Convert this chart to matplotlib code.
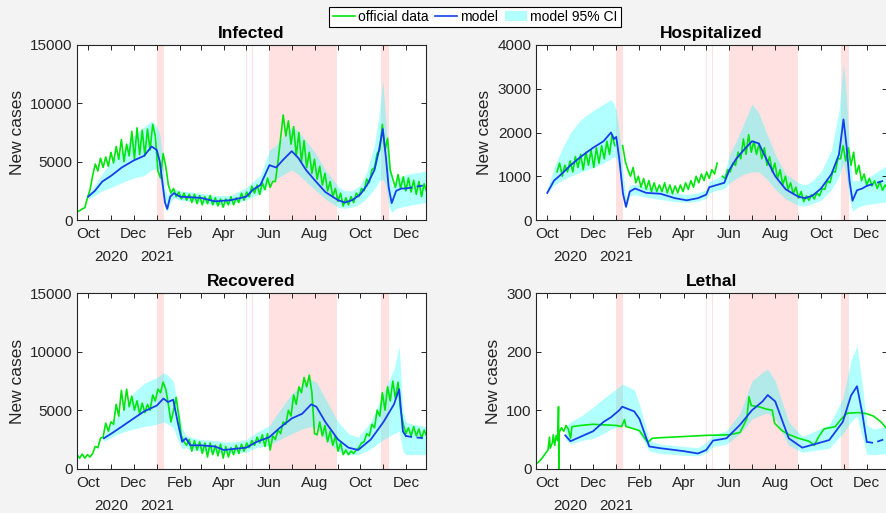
import numpy as np
import pandas as pd
import matplotlib
matplotlib.use('Agg')
import matplotlib.pyplot as plt
import matplotlib.dates as mdates
import matplotlib.transforms as mtransforms
from matplotlib.lines import Line2D
from matplotlib.patches import Patch

plt.rcParams['font.family'] = ['Liberation Sans', 'DejaVu Sans']

nan = np.nan
panel_titles = ['Infected', 'Hospitalized', 'Recovered', 'Lethal']
y_label = 'New cases'
y_ticks = [[0, 5000, 10000, 15000], [0, 1000, 2000, 3000, 4000],
           [0, 5000, 10000, 15000], [0, 100, 200, 300]]
legend_labels = ['official data', 'model', 'model 95% CI']
year_labels = [('2020-11-01', '2020'), ('2021-01-01', '2021')]
x_range = ('2020-09-16', '2021-12-28')
forecast_start = '2021-12-01'
shade_periods = [('2021-01-01', '2021-01-10'), ('2021-05-01', '2021-05-02'),
                 ('2021-05-09', '2021-05-10'), ('2021-06-01', '2021-08-31'),
                 ('2021-10-28', '2021-11-08')]

# ---------- official data (sampled every 3.5 days) ----------
official_step_hours = 84
inf_official_start = '2020-09-16'
inf_official = [700, 800, 950, 1050, 1900, 2600, 3800, 4800, 4200, 5300,
                4500, 5400, 4600, 5800, 4900, 6300, 5200, 6900, 5000, 6500,
                5500, 7600, 5200, 7900, 5600, 7700, 5500, 7800, 6000, 8200,
                7200, 4200, 3600, 5700, 4600, 3000, 2300, 2700, 2000, 2400,
                1800, 2300, 1700, 2200, 1500, 2200, 1400, 2100, 1300, 2000,
                1400, 2100, 1300, 1900, 1200, 1800, 1100, 1800, 1300, 2000,
                1300, 1900, 1500, 2300, 1700, 2400, 2000, 2900, 2300, 3000,
                2200, 3200, 2600, 3600, 2800, 3300, 3300, 5000, 7000, 9000,
                7200, 8500, 6500, 8000, 5500, 7500, 5000, 6800, 4500, 5800,
                4000, 5200, 3500, 4600, 3000, 4000, 2500, 3300, 2000, 2700,
                1600, 2300, 1200, 1900, 1300, 2000, 1500, 2300, 2000, 2700,
                2500, 3500, 3200, 4300, 4500, 5700, 6000, 8200, 6000, 7000,
                4300, 3500, 2800, 3900, 2700, 3700, 2500, 3600, 2400, 3400,
                2200, 3300, 2000, 3100, 2400]

hosp_official_start = '2020-10-14'
hosp_official = [1100, 1300, 1000, 1250, 1100, 1350, 1100, 1450, 1200, 1500,
                 1150, 1550, 1250, 1600, 1200, 1650, 1300, 1700, 1400, 1800,
                 1500, 1950, 1700, nan, nan, 1700, 1350, 1150, 1000, 1200,
                 850, 1000, 750, 950, 700, 900, 650, 850, 650, 800,
                 650, 850, 620, 800, 600, 780, 620, 800, 650, 850,
                 700, 900, 750, 1000, 850, 1050, 900, 1100, 950, 1150,
                 1050, 1300, nan, 1000, 950, 1150, 1100, 1300, 1250, 1550,
                 1400, 1850, 1500, 1950, 1550, 1800, 1500, 1750, 1400, 1650,
                 1250, 1450, 1100, 1300, 950, 1150, 800, 1000, 700, 850,
                 600, 750, 500, 650, 420, 550, 450, 580, 480, 620,
                 550, 720, 700, 900, 850, 1100, 1100, 1400, 1400, 1700,
                 1350, 1650, 1250, 1550, 1050, 1250, 900, 1050, 800, 950,
                 780, 900, 720, 880, 680, 800, 700]

rec_official_start = '2020-09-16'
rec_official = [1200, 900, 1250, 900, 1200, 1000, 1300, 1900, 1800, 2600,
                2700, 3900, 3200, 4000, 3800, 5500, 4500, 6700, 5000, 6800,
                5300, 6200, 5000, 5800, 4700, 5600, 4800, 5500, 5000, 6300,
                5800, 6800, 6500, 7400, 6800, 5500, 4000, 5000, 6100, 4500,
                2800, 2300, 2000, 2500, 1500, 2400, 1600, 2300, 1300, 2200,
                1000, 2200, 1200, 2000, 1100, 2100, 900, 1900, 1000, 1800,
                1200, 2000, 1300, 2100, 1500, 2200, 1800, 2400, 2000, 2700,
                2200, 2900, 1900, 3000, 1600, 2800, 2500, 3300, 3000, 4000,
                3800, 5000, 4500, 6300, 5500, 7000, 6500, 7800, 7000, 8000,
                6500, 3000, 2900, 4000, 2800, 3700, 2300, 3200, 2000, 2800,
                1500, 2200, 1200, 1600, 1200, 1500, 1300, 1600, 1800, 2200,
                2300, 3000, 2800, 3800, 3500, 5000, 4500, 6500, 5000, 7000,
                5800, 7500, 6000, 7400, 5000, 3800, 3000, 3500, 2800, 3600,
                2800, 3400, 2600, 3300, 2800]

leth_official_dates = ['2020-09-16', '2020-09-20', '2020-09-24', '2020-09-28',
                       '2020-10-02', '2020-10-04', '2020-10-05', '2020-10-08',
                       '2020-10-09', '2020-10-11', '2020-10-13', '2020-10-15',
                       '2020-10-16', '2020-10-16T12:00', '2020-10-17',
                       '2020-10-20', '2020-10-23', '2020-10-26', '2020-10-29',
                       '2020-11-01', '2020-11-03', '2020-11-15', '2020-12-01',
                       '2020-12-15', '2021-01-01', '2021-01-08', '2021-01-12',
                       '2021-01-14', '2021-01-20', '2021-02-01', '2021-02-08',
                       '2021-02-12', '2021-02-18', '2021-03-01', '2021-04-01',
                       '2021-05-01', '2021-06-01', '2021-06-15', '2021-06-24',
                       '2021-06-27', '2021-06-30', '2021-07-10', '2021-07-20',
                       '2021-07-28', '2021-07-31', '2021-08-10', '2021-08-20',
                       '2021-09-01', '2021-09-15', '2021-09-22', '2021-09-28',
                       '2021-10-05', '2021-10-20', '2021-10-28', '2021-11-05',
                       '2021-11-20', '2021-12-01', '2021-12-10', '2021-12-20',
                       '2021-12-28']
leth_official = [8, 12, 18, 25, 32, 54, 35, 45, 58, 40, 57, 48, 106, 0, 62,
                 70, 64, 74, 68, 52, 72, 74, 76, 75, 74, 72, 84, 72, 70, 65,
                 52, 45, 52, 53, 55, 57, 58, 62, 85, 123, 108, 106, 102, 100,
                 78, 65, 58, 52, 47, 40, 55, 68, 72, 85, 95, 96, 94, 90, 80, 68]

# ---------- model and 95% CI ----------
inf_model_dates = ['2020-10-01', '2020-10-10', '2020-10-20', '2020-11-01',
                   '2020-11-15', '2020-12-01', '2020-12-15', '2020-12-25',
                   '2021-01-01', '2021-01-05', '2021-01-09', '2021-01-12',
                   '2021-01-15', '2021-01-19', '2021-01-24', '2021-02-01',
                   '2021-03-01', '2021-03-20', '2021-04-10', '2021-05-01',
                   '2021-05-10', '2021-05-20', '2021-06-01', '2021-06-10',
                   '2021-06-20', '2021-07-01', '2021-07-10', '2021-07-20',
                   '2021-08-01', '2021-08-15', '2021-09-01', '2021-09-10',
                   '2021-09-20', '2021-10-01', '2021-10-10', '2021-10-20',
                   '2021-10-26', '2021-10-31', '2021-11-04', '2021-11-08',
                   '2021-11-12', '2021-11-18', '2021-11-25', '2021-12-01',
                   '2021-12-28']
inf_model = [2000, 2500, 3300, 3800, 4500, 5100, 5500, 6300, 6000, 5000, 3000,
             1500, 950, 2000, 2300, 2000, 1900, 1600, 1700, 2000, 2600, 3000,
             4700, 4500, 5200, 5900, 5300, 4300, 3400, 2400, 1700, 1500, 1700,
             2200, 3000, 4300, 6000, 7800, 5500, 2800, 1450, 2500, 2700, 2700,
             3000]
inf_lo = [1800, 2100, 2500, 2800, 3200, 3600, 3800, 4300, 4400, 3600, 2000,
          1000, 700, 1500, 1900, 1700, 1500, 1300, 1400, 1700, 2000, 2300,
          3200, 3500, 3900, 4300, 3900, 3300, 2600, 1800, 1100, 1000, 1100,
          1400, 1900, 2700, 3300, 3500, 3000, 1200, 650, 1000, 1100, 1200,
          1500]
inf_hi = [2200, 3000, 4000, 5000, 5800, 7200, 8000, 8500, 8000, 7400, 5200,
          2800, 2100, 2500, 2700, 2500, 2300, 2100, 2100, 2800, 3300, 3800,
          6000, 6400, 7200, 8000, 7600, 6800, 5800, 4300, 2900, 2500, 2500,
          3000, 4200, 6500, 9000, 12000, 8500, 5000, 2800, 3500, 3700, 3900,
          4200]

hosp_model_dates = ['2020-10-01', '2020-10-10', '2020-10-20', '2020-11-01',
                    '2020-11-15', '2020-12-01', '2020-12-15', '2020-12-25',
                    '2020-12-29', '2021-01-01', '2021-01-05', '2021-01-10',
                    '2021-01-14', '2021-01-19', '2021-01-26', '2021-02-10',
                    '2021-03-01', '2021-03-20', '2021-04-05', '2021-04-20',
                    '2021-05-01', '2021-05-05', '2021-05-15', '2021-05-25',
                    '2021-06-01', '2021-06-10', '2021-06-20', '2021-07-01',
                    '2021-07-10', '2021-07-20', '2021-08-01', '2021-08-15',
                    '2021-09-01', '2021-09-10', '2021-09-20', '2021-10-01',
                    '2021-10-15', '2021-10-25', '2021-10-31', '2021-11-04',
                    '2021-11-08', '2021-11-12', '2021-11-18', '2021-11-25',
                    '2021-12-01', '2021-12-28']
hosp_model = [620, 900, 1050, 1250, 1450, 1650, 1800, 2000, 1850, 1900, 1400,
              600, 300, 650, 720, 620, 600, 500, 450, 500, 580, 750, 800, 850,
              1150, 1400, 1600, 1800, 1750, 1400, 1000, 700, 530, 500, 560,
              720, 1050, 1500, 2300, 1700, 900, 440, 680, 720, 780, 920]
hosp_lo = [600, 800, 900, 1000, 1100, 1200, 1300, 1400, 1450, 1400, 1100,
           500, 250, 550, 580, 520, 470, 420, 400, 430, 500, 620, 680, 720,
           850, 950, 1050, 1100, 1100, 950, 700, 480, 330, 320, 380, 450,
           700, 1000, 1300, 1000, 500, 200, 280, 330, 350, 420]
hosp_hi = [700, 1200, 1600, 2000, 2300, 2500, 2650, 2750, 2650, 2500, 2000,
           1100, 500, 800, 820, 750, 700, 620, 580, 620, 700, 880, 950, 1050,
           1500, 1800, 2200, 2650, 2450, 2000, 1500, 1050, 850, 800, 900,
           1100, 1600, 2500, 3600, 2800, 1600, 900, 900, 950, 950, 1250]

rec_model_dates = ['2020-10-22', '2020-11-01', '2020-11-15', '2020-12-01',
                   '2020-12-15', '2021-01-01', '2021-01-10', '2021-01-16',
                   '2021-01-23', '2021-01-29', '2021-02-04', '2021-02-09',
                   '2021-02-15', '2021-03-01', '2021-03-20', '2021-04-01',
                   '2021-04-15', '2021-05-01', '2021-05-15', '2021-06-01',
                   '2021-06-15', '2021-07-01', '2021-07-15', '2021-07-27',
                   '2021-08-03', '2021-08-15', '2021-09-01', '2021-09-15',
                   '2021-09-28', '2021-10-15', '2021-11-01', '2021-11-15',
                   '2021-11-22', '2021-11-27', '2021-12-01', '2021-12-10',
                   '2021-12-28']
rec_model = [2600, 3000, 3600, 4300, 4900, 5400, 6000, 5700, 5900, 4000, 2300,
             2600, 2000, 2000, 1900, 1600, 1700, 1800, 2300, 2700, 3500, 4300,
             4700, 5500, 5300, 4000, 2500, 1800, 1600, 2500, 4000, 5500, 6800,
             3200, 2800, 2700, 2600]
rec_lo = [2300, 2700, 3100, 3400, 3600, 3800, 4000, 3800, 3500, 2500, 1700,
          1800, 1600, 1500, 1400, 1300, 1300, 1400, 1800, 2000, 2500, 3000,
          3400, 3600, 3500, 2500, 1500, 1200, 1200, 1700, 2500, 3000, 3200,
          1500, 1200, 1200, 1200]
rec_hi = [2800, 3800, 5000, 6500, 7300, 7800, 8200, 8000, 7500, 5500, 3500,
          2900, 2700, 2500, 2400, 2300, 2300, 2500, 3100, 3700, 5000, 6400,
          7200, 7600, 7400, 6000, 4000, 3000, 2700, 4000, 6500, 8500, 10500,
          5000, 4000, 3800, 3600]

leth_model_dates = ['2020-10-25', '2020-11-01', '2020-11-15', '2020-12-01',
                    '2020-12-15', '2020-12-25', '2021-01-05', '2021-01-09',
                    '2021-01-25', '2021-02-01', '2021-02-14', '2021-03-01',
                    '2021-04-01', '2021-04-20', '2021-05-01', '2021-05-10',
                    '2021-05-28', '2021-06-15', '2021-07-01', '2021-07-15',
                    '2021-07-22', '2021-08-01', '2021-08-19', '2021-09-06',
                    '2021-10-12', '2021-10-30', '2021-11-10', '2021-11-18',
                    '2021-11-25', '2021-12-01', '2021-12-10', '2021-12-28']
leth_model = [57, 47, 55, 64, 80, 88, 100, 106, 98, 85, 38, 35, 30, 26, 32,
              48, 52, 75, 100, 115, 126, 115, 52, 36, 49, 80, 125, 141, 95, 46,
              44, 52]
leth_lo = [50, 42, 48, 52, 60, 68, 72, 75, 70, 60, 30, 26, 23, 22, 27, 38,
           42, 60, 85, 93, 95, 85, 40, 28, 35, 60, 80, 90, 55, 25, 24, 26]
leth_hi = [70, 80, 90, 105, 120, 130, 140, 145, 135, 110, 48, 42, 38, 36, 45,
           58, 65, 95, 150, 165, 170, 150, 80, 55, 75, 120, 185, 210, 145, 75,
           68, 72]

# ---------- styles ----------
GREEN = (0.0, 0.9, 0.05)
BLUE = (0.08, 0.25, 0.92)
CYAN = (0.0, 1.0, 1.0)
CI_ALPHA = 0.3
PINK = '#ffe1e1'
FG = '#262626'
FIG_BG = '#f3f3f3'


def to_num(dates):
    return mdates.date2num(pd.to_datetime(list(dates), format='ISO8601'))


def grid_dates(start, n):
    t0 = to_num([start])[0]
    return t0 + np.arange(n) * official_step_hours / 24.0


panels = [
    (grid_dates(inf_official_start, len(inf_official)), inf_official,
     inf_model_dates, inf_model, inf_lo, inf_hi),
    (grid_dates(hosp_official_start, len(hosp_official)), hosp_official,
     hosp_model_dates, hosp_model, hosp_lo, hosp_hi),
    (grid_dates(rec_official_start, len(rec_official)), rec_official,
     rec_model_dates, rec_model, rec_lo, rec_hi),
    (to_num(leth_official_dates), leth_official,
     leth_model_dates, leth_model, leth_lo, leth_hi),
]

W, H = 886, 513
fig = plt.figure(figsize=(W / 100, H / 100), dpi=100, facecolor=FIG_BG)
positions = [(77, 45, 349, 175), (536, 45, 351, 175),
             (77, 293.3, 349, 175.4), (536, 293.3, 351, 175.4)]

months = pd.date_range('2020-10-01', '2021-12-01', freq='MS')
month_labels = [m.strftime('%b') if m.month % 2 == 0 else '' for m in months]
fc = to_num([forecast_start])[0]

for i, (xo, oval, mdates_, mval, lo, hi) in enumerate(panels):
    l, t, w, h = positions[i]
    ax = fig.add_axes([l / W, 1 - (t + h) / H, w / W, h / H])
    ax.set_facecolor('white')
    for a, b in shade_periods:
        ax.axvspan(to_num([a])[0], to_num([b])[0], color=PINK, lw=0, zorder=0)
    xm = to_num(mdates_)
    ax.fill_between(xm, lo, hi, color=CYAN, alpha=CI_ALPHA, lw=0, zorder=1)
    ax.plot(xo, np.array(oval, dtype=float), color=GREEN, lw=1.2, zorder=2)
    mv = np.array(mval, dtype=float)
    solid = xm <= fc
    dash = xm >= fc
    ax.plot(xm[solid], mv[solid], color=BLUE, lw=1.3, zorder=3)
    ax.plot(xm[dash], mv[dash], color=BLUE, lw=1.3, ls=(0, (3.5, 2.5)), zorder=3)

    ax.set_xlim(to_num(list(x_range)))
    ax.set_ylim(y_ticks[i][0], y_ticks[i][-1])
    ax.set_yticks(y_ticks[i])
    ax.set_xticks(to_num(months))
    ax.set_xticklabels(month_labels)
    ax.tick_params(axis='both', direction='in', length=3.5, width=0.7,
                   top=True, right=True, colors=FG, labelsize=11, pad=5)
    ax.tick_params(axis='y', pad=3)
    for s in ax.spines.values():
        s.set_color(FG)
        s.set_linewidth(0.8)
    ax.set_title(panel_titles[i], fontsize=12.5, fontweight='bold', pad=5)
    ax.set_ylabel(y_label, fontsize=12.5, color=FG, labelpad=4)
    trans = mtransforms.blended_transform_factory(ax.transData, ax.transAxes)
    for d, txt in year_labels:
        ax.text(to_num([d])[0], -37 / h, txt, transform=trans, ha='center',
                va='center', fontsize=11, color=FG)

handles = [Line2D([], [], color=GREEN, lw=1.2), Line2D([], [], color=BLUE, lw=1.2),
           Patch(facecolor=CYAN, alpha=CI_ALPHA, edgecolor='none')]
leg = fig.legend(handles, legend_labels, loc='center', bbox_to_anchor=(475 / W, 1 - 17 / H),
                 ncol=3, frameon=True, fancybox=False, edgecolor='black', framealpha=1,
                 fontsize=10, handlelength=1.6, handletextpad=0.2, columnspacing=0.5,
                 borderpad=0.25, borderaxespad=0)
leg.get_frame().set_linewidth(0.8)

fig.savefig('out.png', dpi=100, facecolor=FIG_BG)
